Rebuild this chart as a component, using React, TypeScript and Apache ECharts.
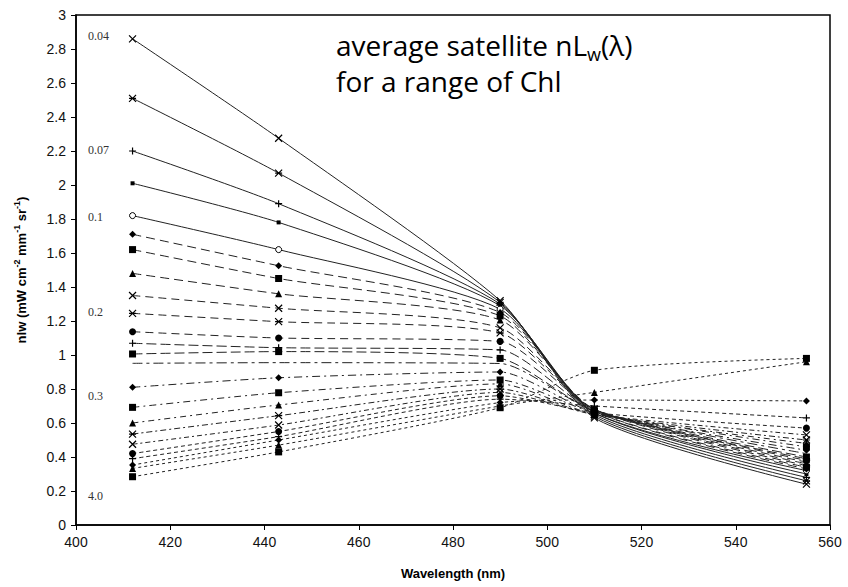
import React, { useEffect, useRef } from "react";
import * as echarts from "echarts";

const wavelengths = [412, 443, 490, 510, 555];
const xTicks = [400, 420, 440, 460, 480, 500, 520, 540, 560];
const yTicks = [0, 0.2, 0.4, 0.6, 0.8, 1, 1.2, 1.4, 1.6, 1.8, 2, 2.2, 2.4, 2.6, 2.8, 3];

// nLw at [412, 443, 490, 510, 555] for each Chl class, from clearest to greenest water
const nlwSeries: number[][] = [
  [2.86, 2.275, 1.32, 0.63, 0.24],
  [2.51, 2.07, 1.31, 0.64, 0.26],
  [2.2, 1.89, 1.3, 0.65, 0.28],
  [2.01, 1.78, 1.29, 0.66, 0.3],
  [1.82, 1.62, 1.27, 0.66, 0.32],
  [1.71, 1.525, 1.25, 0.67, 0.33],
  [1.62, 1.45, 1.23, 0.67, 0.34],
  [1.48, 1.36, 1.206, 0.68, 0.35],
  [1.35, 1.275, 1.16, 0.68, 0.36],
  [1.245, 1.196, 1.13, 0.68, 0.37],
  [1.137, 1.1, 1.08, 0.68, 0.38],
  [1.069, 1.043, 1.03, 0.67, 0.39],
  [1.006, 1.02, 0.98, 0.67, 0.4],
  [0.951, 0.955, 0.95, 0.67, 0.42],
  [0.81, 0.866, 0.9, 0.66, 0.44],
  [0.692, 0.778, 0.853, 0.66, 0.46],
  [0.6, 0.706, 0.83, 0.65, 0.48],
  [0.535, 0.643, 0.8, 0.65, 0.5],
  [0.475, 0.588, 0.78, 0.65, 0.53],
  [0.42, 0.55, 0.76, 0.66, 0.57],
  [0.39, 0.52, 0.74, 0.7, 0.63],
  [0.353, 0.5, 0.72, 0.735, 0.73],
  [0.333, 0.47, 0.7, 0.78, 0.96],
  [0.284, 0.43, 0.69, 0.91, 0.98],
];

const chlLabels = ["0.04", "0.07", "0.1", "0.2", "0.3", "4.0"];
const chlLabelY = [37, 151, 218, 313, 397, 497];

const CROSS = "path://M0,0L10,10M10,0L0,10";
const STAR = "path://M0,0L10,10M10,0L0,10M0,5L10,5";
const PLUS = "path://M5,0L5,10M0,5L10,5";
const markers = [
  CROSS, STAR, PLUS, "rect", "openCircle", "diamond", "rect", "triangle",
  CROSS, STAR, "circle", PLUS, "rect", "none", "diamond", "rect", "triangle",
  STAR, CROSS, "circle", PLUS, "diamond", "triangle", "rect",
];
const dashes: any[] = [
  "solid", "solid", "solid", "solid", "solid",
  [9, 5], [9, 5], [9, 5], [8, 5], [8, 5], [8, 5], [10, 4], [10, 4],
  [10, 4, 3, 4], [8, 4, 2, 4], [7, 4, 2, 4], [6, 4, 2, 4], [6, 3, 2, 3],
  [5, 3, 2, 3], [4, 3], [4, 3], [3, 3], [3, 3], [3, 3],
];

export default function App() {
  const ref = useRef<HTMLDivElement>(null);
  useEffect(() => {
    const chart = echarts.init(ref.current!, null, { renderer: "svg" });
    const series = nlwSeries.map((vals, i) => {
      const m = markers[i];
      const isPath = m.startsWith("path://");
      const open = m === "openCircle";
      const small = i === 3;
      return {
        type: "line",
        data: wavelengths.map((w, k) => [w, vals[k]]),
        smooth: 0.22,
        symbol: open ? "circle" : m,
        symbolSize: small ? 4 : open ? 6 : 7,
        showSymbol: true,
        lineStyle: { color: "#222", width: 1, type: dashes[i] },
        itemStyle: isPath
          ? { color: "#000", borderColor: "#000", borderWidth: 1.2 }
          : open
          ? { color: "#fff", borderColor: "#000", borderWidth: 1 }
          : { color: "#000", borderWidth: 0 },
        z: 2,
      };
    });
    chart.setOption({
      animation: false,
      backgroundColor: "#fff",
      title: {
        text: "{a|average satellite nL}{s|w}{a|(λ)}\n{a|for a range of Chl}",
        left: 331,
        top: 22,
        textStyle: {
          fontWeight: "normal",
          rich: {
            a: { fontFamily: "Open Sans", fontWeight: "normal", fontSize: 28, color: "#000", lineHeight: 36 },
            s: { fontFamily: "Open Sans", fontWeight: "normal", fontSize: 18, color: "#000", verticalAlign: "bottom", lineHeight: 30 },
          },
        },
      },
      grid: { left: 76, right: 18, top: 15, bottom: 62, show: true, borderColor: "#000", borderWidth: 1.5, backgroundColor: "transparent" },
      xAxis: {
        type: "value",
        min: 400,
        max: 560,
        interval: 20,
        name: "Wavelength (nm)",
        nameLocation: "middle",
        nameGap: 42,
        nameTextStyle: { fontFamily: "Liberation Sans", fontWeight: "bold", fontSize: 13, color: "#000" },
        axisLine: { lineStyle: { color: "#000", width: 1.5 } },
        axisTick: { show: true, length: 5, lineStyle: { color: "#000" } },
        axisLabel: { fontFamily: "Liberation Sans", fontSize: 14, color: "#111", margin: 10 },
        splitLine: { show: false },
      },
      yAxis: {
        type: "value",
        min: 0,
        max: 3,
        interval: 0.2,
        name: "{b|nlw (mW cm}{p|-2}{b| mm}{p|-1}{b| sr}{p|-1}{b|)}",
        nameLocation: "middle",
        nameGap: 46,
        nameTextStyle: {
          rich: {
            b: { fontFamily: "Liberation Sans", fontWeight: "bold", fontSize: 13, color: "#000", lineHeight: 18 },
            p: { fontFamily: "Liberation Sans", fontWeight: "bold", fontSize: 9, color: "#000", verticalAlign: "top", lineHeight: 18 },
          },
        },
        axisLine: { lineStyle: { color: "#000", width: 1.5 } },
        axisTick: { show: true, length: 5, lineStyle: { color: "#000" } },
        axisLabel: {
          fontFamily: "Liberation Sans",
          fontSize: 14,
          color: "#111",
          margin: 10,
          formatter: (v: number) => String(Math.round(v * 10) / 10),
        },
        splitLine: { show: false },
      },
      graphic: chlLabels.map((t, i) => ({
        type: "text",
        left: 88,
        top: chlLabelY[i] - 7,
        style: { text: t, font: "12px 'Liberation Serif'", fill: "#333" },
        z: 10,
      })),
      series,
    });
    return () => chart.dispose();
  }, []);
  return <div ref={ref} style={{ width: 848, height: 587, position: "absolute", left: 0, top: 0 }} />;
}
